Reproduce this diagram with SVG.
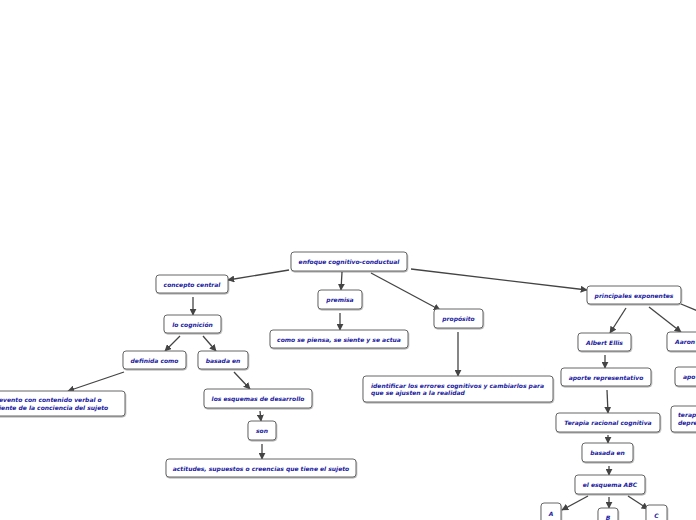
<svg xmlns="http://www.w3.org/2000/svg" width="696" height="520" viewBox="0 0 696 520">
<defs>
<marker id="ah" viewBox="0 0 10 10" refX="9" refY="5" markerWidth="7" markerHeight="7" markerUnits="userSpaceOnUse" orient="auto">
<path d="M0,0 L10,5 L0,10 z" fill="#444"/>
</marker>
<filter id="sh" x="-10%" y="-20%" width="120%" height="160%">
<feDropShadow dx="0.5" dy="1" stdDeviation="0.6" flood-color="#000" flood-opacity="0.35"/>
</filter>
<style>
.b{fill:#fff;stroke:#666;stroke-width:1;filter:url(#sh)}
.t{font-family:"DejaVu Sans",Verdana,sans-serif;font-weight:bold;font-style:italic;font-size:6px;fill:#1a1aa0;text-anchor:middle;dominant-baseline:central}
.l{text-anchor:start}
.c{fill:none;stroke:#444;stroke-width:1.3;marker-end:url(#ah)}
.n{fill:none;stroke:#444;stroke-width:1.3}
</style>
</defs>
<rect width="696" height="520" fill="#fff"/>
<g id="connectors">
<line class="c" x1="289" y1="270" x2="228" y2="280"/>
<line class="c" x1="342" y1="272" x2="341" y2="290"/>
<line class="c" x1="371" y1="273" x2="440" y2="310"/>
<line class="c" x1="411" y1="269" x2="587" y2="290"/>
<line class="c" x1="193" y1="297" x2="193" y2="315"/>
<line class="c" x1="180" y1="336" x2="165" y2="351"/>
<line class="c" x1="203" y1="336" x2="216" y2="351"/>
<line class="c" x1="124" y1="372" x2="68" y2="391"/>
<line class="c" x1="234" y1="372" x2="250" y2="389"/>
<line class="c" x1="260" y1="411" x2="261" y2="421"/>
<line class="c" x1="262" y1="444" x2="262" y2="459"/>
<line class="c" x1="340" y1="313" x2="340" y2="330"/>
<line class="c" x1="458" y1="332" x2="458" y2="376"/>
<line class="c" x1="626" y1="308" x2="610" y2="333"/>
<line class="c" x1="649" y1="307" x2="681" y2="332"/>
<line class="n" x1="681" y1="304" x2="700" y2="312"/>
<line class="c" x1="605" y1="355" x2="605" y2="368"/>
<line class="c" x1="607" y1="390" x2="608" y2="413"/>
<line class="c" x1="608" y1="435" x2="608" y2="443"/>
<line class="c" x1="609" y1="466" x2="609" y2="475"/>
<line class="c" x1="588" y1="496" x2="562" y2="510"/>
<line class="c" x1="609" y1="497" x2="609" y2="508"/>
<line class="c" x1="628" y1="496" x2="648" y2="509"/>
</g>
<g id="n1"><rect class="b" x="291" y="252" width="116" height="19" rx="3"/><text class="t" x="349" y="261.5">enfoque cognitivo-conductual</text></g>
<g id="n2"><rect class="b" x="156" y="275" width="72" height="18" rx="3"/><text class="t" x="192" y="284">concepto central</text></g>
<g id="n3"><rect class="b" x="318" y="290" width="44" height="19" rx="3"/><text class="t" x="340" y="299.5">premisa</text></g>
<g id="n4"><rect class="b" x="270" y="330" width="138" height="18" rx="3"/><text class="t" x="339" y="339">como se piensa, se siente y se actua</text></g>
<g id="n5"><rect class="b" x="434" y="309" width="49" height="19" rx="3"/><text class="t" x="458.5" y="318.5">propósito</text></g>
<g id="n6"><rect class="b" x="363" y="376" width="190" height="26" rx="3"/><text class="t l" x="371" y="385">identificar los errores cognitivos y cambiarlos para</text><text class="t l" x="371" y="392.5">que se ajusten a la realidad</text></g>
<g id="n7"><rect class="b" x="587" y="286" width="94" height="18" rx="3"/><text class="t" x="634" y="295.5">principales exponentes</text></g>
<g id="n8"><rect class="b" x="164" y="315" width="57" height="18" rx="3"/><text class="t" x="192.5" y="324">lo cognición</text></g>
<g id="n9"><rect class="b" x="123" y="351" width="63" height="18" rx="3"/><text class="t" x="154.5" y="360">definida como</text></g>
<g id="n10"><rect class="b" x="198" y="351" width="50" height="18" rx="3"/><text class="t" x="223" y="360">basada en</text></g>
<g id="n11"><rect class="b" x="-20" y="391" width="145" height="25" rx="3"/><text class="t l" x="-1" y="399.5">evento con contenido verbal o</text><text class="t l" x="-1" y="407.5">iente de la conciencia del sujeto</text></g>
<g id="n12"><rect class="b" x="204" y="389" width="108" height="19" rx="3"/><text class="t" x="258" y="398.5">los esquemas de desarrollo</text></g>
<g id="n13"><rect class="b" x="248" y="421" width="28" height="19" rx="3"/><text class="t" x="262" y="430.5">son</text></g>
<g id="n14"><rect class="b" x="166" y="459" width="190" height="18" rx="3"/><text class="t" x="261" y="468">actitudes, supuestos o creencias que tiene el sujeto</text></g>
<g id="n15"><rect class="b" x="578" y="333" width="53" height="18" rx="3"/><text class="t" x="604.5" y="342">Albert Ellis</text></g>
<g id="n16"><rect class="b" x="561" y="368" width="90" height="18" rx="3"/><text class="t" x="606" y="377">aporte representativo</text></g>
<g id="n17"><rect class="b" x="556" y="413" width="104" height="19" rx="3"/><text class="t" x="608" y="422.5">Terapia racional cognitiva</text></g>
<g id="n18"><rect class="b" x="582" y="443" width="51" height="19" rx="3"/><text class="t" x="607.5" y="452.5">basada en</text></g>
<g id="n19"><rect class="b" x="575" y="475" width="70" height="19" rx="3"/><text class="t" x="610" y="484.5">el esquema ABC</text></g>
<g id="n20"><rect class="b" x="541" y="503" width="20" height="22" rx="3"/><text class="t" x="551" y="513">A</text></g>
<g id="n21"><rect class="b" x="598" y="508" width="20" height="18" rx="3"/><text class="t" x="608" y="517.5">B</text></g>
<g id="n22"><rect class="b" x="646" y="505" width="21" height="20" rx="3"/><text class="t" x="656.5" y="515">C</text></g>
<g id="n23"><rect class="b" x="667" y="332" width="40" height="19" rx="3"/><text class="t l" x="675" y="341.5">Aaron</text></g>
<g id="n24"><rect class="b" x="675" y="367" width="30" height="19" rx="3"/><text class="t l" x="683" y="376.5">apo</text></g>
<g id="n25"><rect class="b" x="671" y="406" width="35" height="26" rx="3"/><text class="t l" x="678" y="414.5">terap</text><text class="t l" x="678" y="422.5">depre</text></g>
</svg>
